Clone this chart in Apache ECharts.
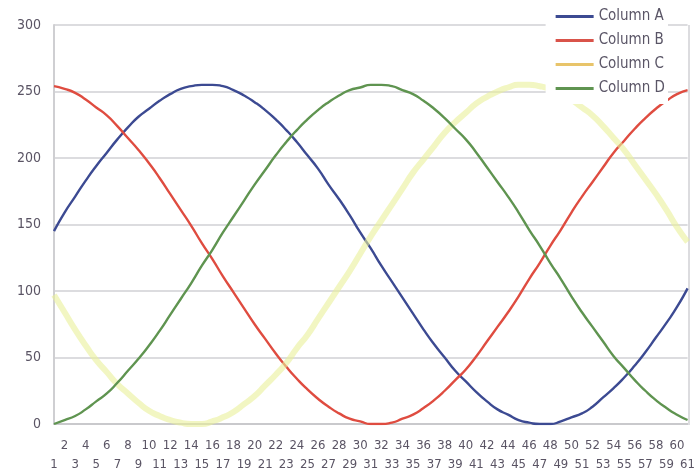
<!DOCTYPE html>
<html>
<head>
<meta charset="utf-8">
<script src="https://cdn.jsdelivr.net/npm/echarts@6/dist/echarts.min.js"></script>
<style>
  html, body { margin: 0; padding: 0; background: #fff; }
  #chart { width: 698px; height: 474px; }
</style>
</head>
<body>
<div id="chart"></div>
<script>
// x positions 1..61
const categories = Array.from({ length: 61 }, (_, i) => String(i + 1))

const columnA = [145, 159, 171, 183, 194, 204, 214, 223, 231, 237, 243, 248, 252, 254, 255, 255, 254, 251, 247, 242,
  236, 229, 221, 212, 202, 192, 180, 169, 157, 144, 132, 119, 107, 95, 83, 71, 60, 50, 40, 32,
  24, 17, 11, 7, 3, 1, 0, 0, 2, 5, 8, 13, 20, 27, 35, 44, 54, 65, 76, 88, 102]
const columnB = [254, 252, 249, 244, 238, 232, 224, 215, 206, 196, 185, 173, 161, 149, 136, 124, 111, 99, 87, 75,
  64, 53, 43, 34, 26, 19, 13, 8, 4, 2, 0, 0, 1, 4, 7, 12, 18, 25, 33, 41,
  51, 62, 73, 84, 96, 109, 121, 134, 146, 159, 171, 182, 193, 204, 213, 222, 230, 237, 243, 248, 251]
const columnC = [97, 84, 71, 59, 48, 39, 30, 23, 16, 10, 6, 3, 1, 0, 0, 2, 5, 9, 15, 21,
  29, 37, 46, 57, 67, 79, 91, 103, 115, 128, 141, 153, 165, 177, 189, 199, 209, 219, 227, 234,
  241, 246, 250, 253, 255, 255, 254, 252, 249, 244, 238, 232, 224, 215, 206, 195, 184, 173, 161, 148, 137]
const columnD = [0, 3, 6, 11, 17, 23, 31, 40, 49, 59, 70, 82, 94, 106, 119, 131, 144, 156, 168, 180,
  191, 202, 212, 221, 229, 236, 242, 247, 251, 253, 255, 255, 254, 251, 248, 243, 237, 230, 222, 214,
  204, 193, 182, 171, 159, 146, 134, 121, 109, 96, 84, 73, 62, 51, 42, 33, 25, 18, 12, 7, 3]

const yTicks = [0, 50, 100, 150, 200, 250, 300]

const font = '"DejaVu Sans Condensed", "Liberation Sans Narrow", "Liberation Sans", Arial, sans-serif'

const chart = echarts.init(document.getElementById('chart'), null, { renderer: 'canvas' })

const line = (name, data, color, width, opacity) => ({
  name,
  type: 'line',
  data,
  smooth: 0.6,
  showSymbol: false,
  symbol: 'none',
  lineStyle: { color, width, opacity },
  itemStyle: { color },
})

chart.setOption({
  animation: false,
  backgroundColor: '#ffffff',
  textStyle: { fontFamily: font },
  grid: { left: 54, right: 9, top: 25, bottom: 49, containLabel: false },
  legend: {
    orient: 'vertical',
    right: 30,
    top: 5,
    itemWidth: 38,
    itemHeight: 3,
    itemGap: 9,
    padding: [4, 3, 8, 10],
    backgroundColor: '#ffffff',
    icon: 'rect',
    textStyle: { color: '#5a5566', fontSize: 15, fontFamily: font },
    data: [
      { name: 'Column A', itemStyle: { color: '#3c4a92' } },
      { name: 'Column B', itemStyle: { color: '#d9534a' } },
      { name: 'Column C', itemStyle: { color: '#e8c46a' } },
      { name: 'Column D', itemStyle: { color: '#5f9450' } },
    ],
  },
  xAxis: {
    type: 'category',
    data: categories,
    boundaryGap: false,
    axisLine: { lineStyle: { color: '#c9c9cc', width: 2 } },
    axisTick: { show: false },
    splitLine: { show: false },
    axisLabel: {
      interval: 0,
      margin: 12,
      color: '#5a5464',
      fontSize: 13,
      fontFamily: font,
      lineHeight: 19,
      formatter: (v, i) => (i % 2 === 0 ? '\n' + v : v),
    },
  },
  yAxis: {
    type: 'value',
    min: yTicks[0],
    max: yTicks[yTicks.length - 1],
    interval: 50,
    axisLine: { show: true, lineStyle: { color: '#cfcfd2', width: 2 } },
    axisTick: { show: false },
    splitLine: { lineStyle: { color: '#dcdcdf', width: 2 } },
    axisLabel: { margin: 13, color: '#5a5464', fontSize: 14, fontFamily: font },
  },
  series: [
    line('Column A', columnA, '#3c4a92', 2.4, 1),
    line('Column B', columnB, '#df4c40', 2.4, 1),
    line('Column C', columnC, '#e9f09a', 6, 0.6),
    line('Column D', columnD, '#5f9450', 2.4, 1),
  ],
  graphic: [
    {
      type: 'line',
      shape: { x1: 689, y1: 25, x2: 689, y2: 425 },
      style: { stroke: '#dcdcdf', lineWidth: 2 },
      z: 1,
    },
  ],
})
</script>
</body>
</html>
